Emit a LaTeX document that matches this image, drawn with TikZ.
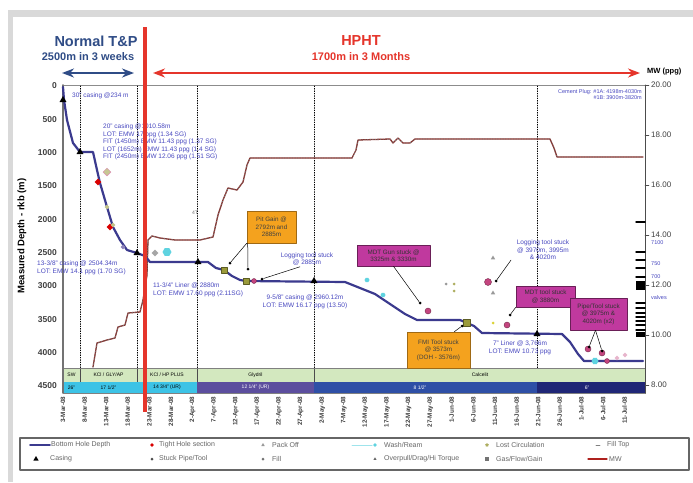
\documentclass[tikz,border=0pt]{standalone}
\usepackage{fontspec}
\setmainfont{Liberation Sans}
\usetikzlibrary{shapes.geometric,arrows.meta}
\definecolor{tpblue}{HTML}{2F4C86}
\definecolor{hpred}{HTML}{E5352B}
\definecolor{bhd}{HTML}{3B3A8E}
\definecolor{mwline}{HTML}{8C2F2B}
\definecolor{annot}{HTML}{4848C0}
\definecolor{mudgreen}{HTML}{D3E8BF}
\definecolor{holecyan}{HTML}{3CC3E6}
\definecolor{holepurple}{HTML}{5C4E9E}
\definecolor{holeblue}{HTML}{2E4FA6}
\definecolor{holenavy}{HTML}{1F2676}
\definecolor{calloutor}{HTML}{F4A21E}
\definecolor{calloutmg}{HTML}{C0399E}
\definecolor{framegray}{HTML}{D9D9D9}
\definecolor{gaspt}{HTML}{9A9A3A}
\definecolor{pitpt}{HTML}{C4457F}
\definecolor{washc}{HTML}{5FD3E0}
\newcommand{\fsz}[2]{\fontsize{#1}{#2}\selectfont}
\begin{document}
\begin{tikzpicture}[x=1pt, y=-1pt, line cap=round, line join=round, >=Stealth, font=\fsz{7}{8}]
\tikzset{
  title/.style={font=\fsz{14.5}{16}\bfseries},
  subtitle/.style={font=\fsz{11}{12}\bfseries},
  ylab/.style={font=\fsz{8.5}{9}\bfseries, text=black!75, inner sep=1pt},
  mwlab/.style={font=\fsz{8}{9}, text=black!75, anchor=west, inner sep=1pt},
  xlab/.style={font=\fsz{6.3}{7}\bfseries, text=black!75, rotate=90, anchor=east, inner sep=0.5pt},
  vdot/.style={black, line width=0.7pt, dash pattern=on 0.8pt off 1.6pt},
  bhdline/.style={bhd, line width=2.2pt},
  mwcurve/.style={mwline, line width=1.3pt},
  casing/.style={regular polygon, regular polygon sides=3, fill=black, inner sep=0pt, minimum size=8pt},
  tight/.style={diamond, fill=red!85!black, inner sep=0pt, minimum size=7pt},
  packoff/.style={regular polygon, regular polygon sides=3, fill=black!40, inner sep=0pt, minimum size=5pt},
  gasgain/.style={rectangle, fill=gaspt, draw=gaspt!60!black, line width=0.4pt, inner sep=0pt, minimum size=6pt},
  stuckpt/.style={circle, fill=pitpt, draw=pitpt!60!black, line width=0.4pt, inner sep=0pt, minimum size=6pt},
  washpt/.style={regular polygon, regular polygon sides=6, fill=washc, inner sep=0pt, minimum size=8pt},
  fillpt/.style={circle, fill=gaspt!80, inner sep=0pt, minimum size=3pt},
  smalldia/.style={diamond, fill=gaspt!60!white, inner sep=0pt, minimum size=5pt},
  tagdot/.style={circle, fill=black, inner sep=0pt, minimum size=3pt},
  leader/.style={black, line width=0.5pt},
  note/.style={text=annot, font=\fsz{6.5}{7.5}, align=center, inner sep=0pt},
  orbox/.style={fill=calloutor, draw=calloutor!65!black, line width=0.6pt, align=center, font=\fsz{6.3}{7.5}, text=black!75, inner sep=1pt},
  mgbox/.style={fill=calloutmg, draw=calloutmg!55!black, line width=0.6pt, align=center, font=\fsz{6.3}{7.5}, text=black!80, inner sep=1pt},
  band/.style={font=\fsz{5}{6}, inner sep=0pt},
  legtext/.style={font=\fsz{7}{8}, text=black!60, anchor=west, inner sep=0pt}
}
\useasboundingbox (0,0) rectangle (693,482);
\clip (0,0) rectangle (693,482);
\fill[framegray] (8,10) rectangle (693,482);
\fill[white] (13,17) rectangle (693,482);

% headings
\node[title, text=tpblue] (normal) at (96,41) {Normal T\&P};
\node[subtitle, text=tpblue] (weeks) at (88,57) {2500m in 3 weeks};
\coordinate (nl) at (62,73);
\coordinate (nr) at (134,73);
\draw[<->, tpblue, line width=2pt] (nl) -- (nr);
\node[title, text=hpred] (hpht) at (361,41) {HPHT};
\node[subtitle, text=hpred] (months) at (361,57) {1700m in 3 Months};
\coordinate (hl) at (153,73);
\coordinate (hr) at (640,73);
\draw[<->, hpred, line width=2pt] (hl) -- (hr);
\node[font=\fsz{7.5}{8}\bfseries, anchor=west, inner sep=0pt] (mwunit) at (647,72) {MW (ppg)};

% frame and grid
\draw[black!45, line width=0.8pt] (63,85) -- (645,85);
\foreach \x in {80,137,197,314,537}
  \draw[vdot] (\x,86) -- (\x,368);

% mud and hole bands
\fill[mudgreen] (63,368) rectangle (645,382);
\foreach \x in {80,137,197,314}
  \draw[black!70, line width=0.6pt] (\x,368) -- (\x,382);
\node[band] (mud1) at (71.5,375) {SW};
\node[band] (mud2) at (108.5,375) {KCl / GLY/AP};
\node[band] (mud3) at (167,375) {KCl / HP PLUS};
\node[band] (mud4) at (255.5,375) {Glydril};
\node[band] (mud5) at (480,375) {Calcelit};
\fill[holecyan] (63,382) rectangle (197,393);
\fill[holepurple] (197,382) rectangle (314,393);
\fill[holeblue] (314,382) rectangle (537,393);
\fill[holenavy] (537,382) rectangle (645,393);
\node[band] (hole1) at (71.5,387.5) {26"};
\node[band] (hole2) at (108.5,387.5) {17 1/2"};
\node[band] (hole3) at (167,387.5) {14 3/4" (UR)};
\node[band, text=white] (hole4) at (255.5,387.5) {12 1/4" (UR)};
\node[band, text=white] (hole5) at (420,387.5) {8 1/2"};
\node[band, text=white] (hole6) at (587,387.5) {6"};
\draw[black!50, line width=0.5pt] (63,368) rectangle (645,393);

% axes
\draw[black!55, line width=1.8pt] (63,85) -- (63,393);
\draw[black!70, line width=1pt] (645,85) -- (645,393);
\foreach \d in {0,500,...,4500}
  \node[ylab, anchor=east] (depth\d) at (58,{86+\d/15}) {\d};
\foreach \m in {8,10,...,20} {
  \draw[black!70] (645,{85+(20-\m)*25}) -- (649,{85+(20-\m)*25});
  \node[mwlab] (mw\m) at (650,{85+(20-\m)*25}) {\m.00};
}
\foreach \y in {222,252,260,268,277,303,308,313,317,321,325,330}
  \draw[black, line width=1.5pt] (636,\y) -- (645,\y);
\fill[black] (636,281) rectangle (645,290);
\fill[black] (636,332) rectangle (645,337);
\node[note, anchor=west, font=\fsz{5.5}{6}] (tvd1) at (651,243) {7100};
\node[note, anchor=west, font=\fsz{5.5}{6}] (tvd2) at (651,264) {750};
\node[note, anchor=west, font=\fsz{5.5}{6}] (tvd3) at (651,277) {700};
\node[note, anchor=west, font=\fsz{5.5}{6}] (tvd4) at (651,298) {valves};
\node[rotate=90, font=\fsz{9.5}{10}\bfseries] (ytitle) at (22,236) {Measured Depth - rkb (m)};
\foreach \t [count=\i from 0] in {3-Mar,8-Mar,13-Mar,18-Mar,23-Mar,28-Mar,2-Apr,7-Apr,12-Apr,17-Apr,22-Apr,27-Apr,2-May,7-May,12-May,17-May,22-May,27-May,1-Jun,6-Jun,11-Jun,16-Jun,21-Jun,26-Jun,1-Jul,6-Jul,11-Jul}
  \node[xlab] (day\i) at ({63+21.6*\i},396) {\t-08};

% mud weight
\draw[mwcurve, postaction={draw, black!55, line width=0.9pt, dash pattern=on 0.6pt off 2pt}] plot coordinates {(93,367) (97,343) (107,340) (115,338) (118,327) (125,325) (128,313) (140,312) (143,300) (147,275) (148,240) (152,236) (160,238) (175,240) (200,240) (213,237) (218,215) (223,200) (228,188) (237,190) (243,182) (247,165) (250,158) (352,158) (356,150) (358,140) (390,139) (393,143) (398,138) (403,143) (410,143) (415,139) (550,139) (554,148) (557,157) (643,157)};

% bottom hole depth
\draw[bhdline] plot coordinates {(63,87) (64,100) (67,120) (73,143) (80,152) (93,152) (97,170) (100,183) (107,207) (113,227) (120,240) (127,250) (137,253) (145,256) (150,262) (208,262) (216,268) (224,270) (232,276) (240,280) (246,281) (345,282) (360,288) (375,294) (390,304) (405,314) (417,320) (460,320) (467,323) (474,326) (482,333) (562,334) (570,342) (578,354) (584,361) (643,361)};

% events
\node[casing] (cas1) at (63,100) {};
\node[casing] (cas2) at (80,152) {};
\node[casing] (cas3) at (137,253) {};
\node[casing] (cas4) at (198,262) {};
\node[casing] (cas5) at (314,281) {};
\node[casing] (cas6) at (537,334) {};
\node[diamond, fill=gaspt!55!white, draw=pitpt!60, line width=0.5pt, inner sep=0pt, minimum size=8pt] (pk1) at (107,172) {};
\node[tight] (th1) at (98,182) {};
\node[tight] (th2) at (110,227) {};
\node[smalldia] (pk2) at (107,207) {};
\node[smalldia] (pk3) at (113,225) {};
\node[smalldia, fill=holepurple!70] (pk4) at (123,247) {};
\node[diamond, fill=black!35, inner sep=0pt, minimum size=7pt] (pk5) at (155,253) {};
\node[washpt, minimum size=9pt] (wr1) at (167,252) {};
\node[washpt, minimum size=5pt] (wr2) at (367,280) {};
\node[washpt, minimum size=5pt] (wr3) at (383,295) {};
\node[gasgain] (gg1) at (224,270) {};
\node[gasgain] (gg2) at (246,281) {};
\node[gasgain, minimum size=7pt] (gg3) at (467,323) {};
\node[stuckpt, minimum size=5pt] (sp1) at (254,281) {};
\node[stuckpt] (sp2) at (428,311) {};
\node[stuckpt, minimum size=7pt] (sp3) at (488,282) {};
\node[stuckpt] (sp4) at (507,325) {};
\node[stuckpt] (sp5) at (588,349) {};
\node[stuckpt] (sp6) at (602,353) {};
\node[stuckpt, minimum size=5pt] (sp7) at (607,361) {};
\node[washpt, minimum size=7pt] (wr4) at (595,361) {};
\node[smalldia, fill=pitpt!40] (pk6) at (617,358) {};
\node[smalldia, fill=pitpt!40] (pk7) at (625,355) {};
\node[packoff] (po1) at (493,258) {};
\node[packoff] (po2) at (493,293) {};
\node[fillpt, fill=black!40] (fl1) at (446,284) {};
\node[fillpt] (fl2) at (454,284) {};
\node[fillpt] (fl3) at (454,291) {};
\node[fillpt, fill=yellow!60!gaspt] (fl4) at (493,323) {};
\node[font=\fsz{5}{6}, text=black!55, inner sep=0pt] (mwtag) at (195,213) {4T};

% leaders and notes
\node[tagdot] (tagA) at (230,263) {};
\node[tagdot] (tagB) at (248,269) {};
\node[tagdot] (tagC) at (262,279) {};
\node[tagdot] (tagD) at (420,303) {};
\node[tagdot] (tagE) at (462,326) {};
\node[tagdot] (tagF) at (496,281) {};
\node[tagdot] (tagG) at (510,315) {};
\node[tagdot] (tagH) at (589,347) {};
\node[tagdot] (tagI) at (602,351) {};

\node[orbox, minimum width=49pt, minimum height=32pt] (pitgain) at (271.5,227) {Pit Gain @\\2792m and\\2885m};
\draw[leader] (pitgain.south west) -- (tagA);
\draw[leader] ([xshift=1pt]pitgain.south west) -- (tagB);
\node[note] (logstuck1) at (307,259) {Logging tool stuck\\@ 2885m};
\draw[leader] ([xshift=-7pt,yshift=-1pt]logstuck1.south) -- (tagC);
\node[mgbox, minimum width=73pt, minimum height=21pt] (mdtgun) at (393.5,255.5) {MDT Gun stuck @\\3325m \& 3330m};
\draw[leader] (mdtgun.south) -- (tagD);
\node[orbox, minimum width=63pt, minimum height=36pt] (fmistuck) at (438.5,350) {FMI Tool stuck\\@ 3573m\\(DOH - 3576m)};
\draw[leader] ([xshift=-16pt]fmistuck.north east) -- (tagE);
\node[note] (logstuck2) at (543,250) {Logging tool stuck\\@ 3970m, 3995m\\\& 4020m};
\draw[leader] ([xshift=-32pt]logstuck2.south) -- (tagF);
\node[mgbox, minimum width=59pt, minimum height=21pt] (mdtstuck) at (545.5,296.5) {MDT tool stuck\\@ 3880m};
\draw[leader] (mdtstuck.south west) -- (tagG);
\node[mgbox, minimum width=57pt, minimum height=32pt] (pipestuck) at (598.5,314) {Pipe/Tool stuck\\@ 3975m \&\\4020m (x2)};
\draw[leader] ([xshift=-3pt]pipestuck.south) -- (tagH);
\draw[leader] ([xshift=-3pt]pipestuck.south) -- (tagI);

\node[note, anchor=west] (cas30) at (72,96) {30" casing @234 m};
\node[note, anchor=north west, align=left] (cas20) at (103,124) {20" casing @1010.58m\\LOT: EMW 17 ppg (1.34 SG)\\FIT (1450m) EMW 11.43 ppg (1.37 SG)\\LOT (1652m) EMW 11.43 ppg (1.4 SG)\\FIT (2450m) EMW 12.06 ppg (1.51 SG)};
\node[note, anchor=north west, align=left] (cas13) at (37,261) {13-3/8" casing @ 2504.34m\\LOT: EMW 14.1 ppg (1.70 SG)};
\node[note, anchor=north west, align=left] (liner11) at (153,283) {11-3/4" Liner @ 2880m\\LOT: EMW 17.60 ppg (2.11SG)};
\node[note] (cas9) at (305,302) {9-5/8" casing @ 2960.12m\\LOT: EMW 16.17 ppg (13.50)};
\node[note] (liner7) at (520,348) {7" Liner @ 3,766m\\LOT: EMW 10.73 ppg};
\node[note, anchor=north east, align=right, font=\fsz{5.5}{6.5}] (plugs) at (642,89) {Cement Plug: \#1A: 4198m-4030m\\\#1B: 3900m-3820m};

% transition
\draw[hpred, line width=4pt, line cap=butt] (145,27) -- (145,412);

% legend
\draw[black!60, line width=1.2pt, fill=white] (20,438) rectangle (689,470);
\coordinate (lg1) at (30,445);
\coordinate (lg2) at (50,445);
\draw[bhd, line width=1.6pt] (lg1) -- (lg2);
\node[legtext] (tBHD) at (51,445) {Bottom Hole Depth};
\node[casing, minimum size=6pt] (mCas) at (36,459) {};
\node[legtext] (tCas) at (50,459) {Casing};
\node[tight, minimum size=4pt] (mTight) at (152,445) {};
\node[legtext] (tTight) at (159,445) {Tight Hole section};
\node[circle, fill=black!70, inner sep=0pt, minimum size=3pt] (mStuck) at (152,459) {};
\node[legtext] (tStuck) at (159,459) {Stuck Pipe/Tool};
\node[packoff, minimum size=4pt] (mPack) at (263,445) {};
\node[legtext] (tPack) at (272,445) {Pack Off};
\node[circle, fill=black!55, inner sep=0pt, minimum size=3pt] (mFill) at (263,459) {};
\node[legtext] (tFill) at (272,459) {Fill};
\draw[washc!60, line width=1pt] (352,445) -- (372,445);
\node[diamond, fill=washc, inner sep=0pt, minimum size=4pt] (mWash) at (375,445) {};
\node[legtext] (tWash) at (384,445) {Wash/Ream};
\node[regular polygon, regular polygon sides=3, fill=black!60, inner sep=0pt, minimum size=3.5pt] (mOver) at (375,459) {};
\node[legtext] (tOver) at (384,459) {Overpull/Drag/Hi Torque};
\node[star, star points=5, fill=gaspt!80, inner sep=0pt, minimum size=4pt] (mLost) at (487,445) {};
\node[legtext] (tLost) at (496,445) {Lost Circulation};
\node[rectangle, fill=black!55, inner sep=0pt, minimum size=3.5pt] (mGas) at (487,459) {};
\node[legtext] (tGas) at (496,459) {Gas/Flow/Gain};
\draw[black!50, line width=0.8pt] (596,445) -- (600,445);
\node[legtext] (tTop) at (607,445) {Fill Top};
\coordinate (lm1) at (588,459);
\coordinate (lm2) at (607,459);
\draw[mwline!70!red, line width=1.2pt] (lm1) -- (lm2);
\node[legtext] (tMW) at (609,459) {MW};
\end{tikzpicture}
\end{document}
